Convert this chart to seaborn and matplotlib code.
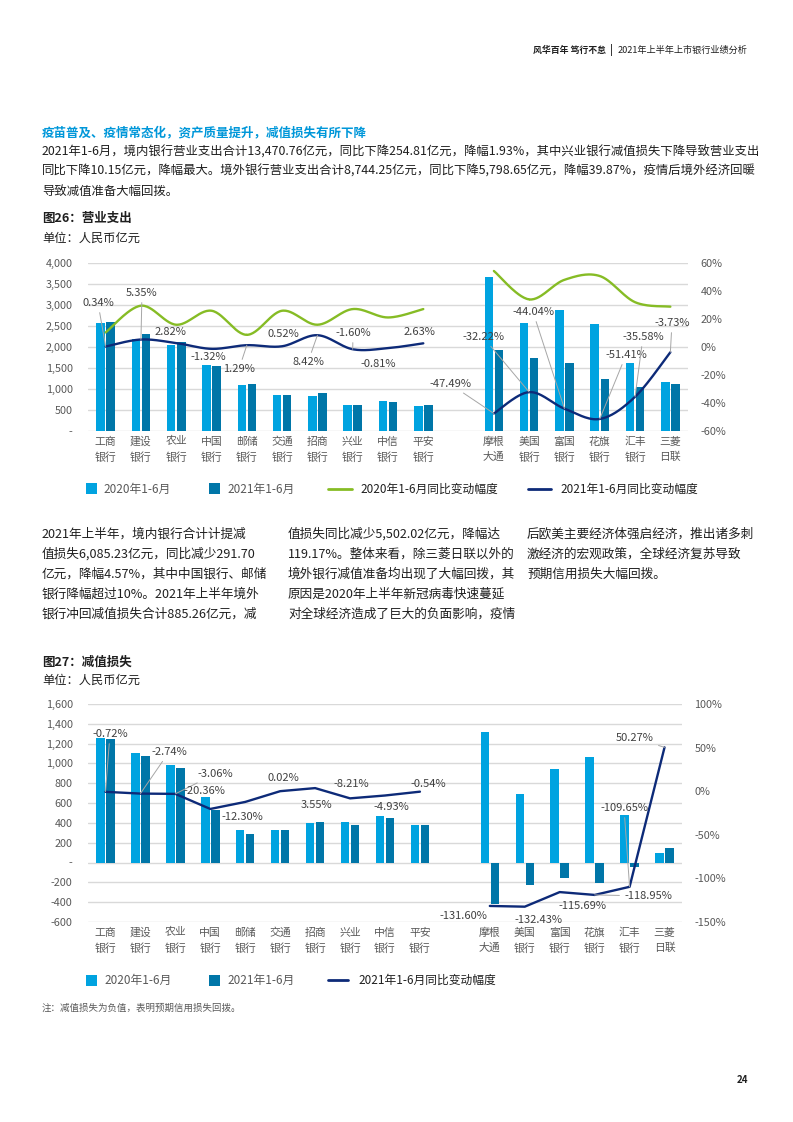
import numpy as np
import pandas as pd
import matplotlib
matplotlib.use('Agg')
import matplotlib.pyplot as plt
from matplotlib.patches import Rectangle
from matplotlib.lines import Line2D
import seaborn as sns

sns.set_theme(style='white')
plt.rcParams['font.family'] = ['Noto Sans CJK SC', 'DejaVu Sans']
plt.rcParams['axes.unicode_minus'] = False

# ---- data ----
banks_cn = ['工商\n银行', '建设\n银行', '农业\n银行', '中国\n银行', '邮储\n银行',
            '交通\n银行', '招商\n银行', '兴业\n银行', '中信\n银行', '平安\n银行']
banks_fx = ['摩根\n大通', '美国\n银行', '富国\n银行', '花旗\n银行', '汇丰\n银行', '三菱\n日联']
banks = banks_cn + banks_fx
periods = ['2020年1-6月', '2021年1-6月']

# 图26 营业支出 (亿元)
opex_2020 = [2580, 2190, 2055, 1560, 1098, 860, 840, 628, 706, 598,
             3675, 2579, 2881, 2540, 1627, 1159]
opex_2021 = [2589, 2307, 2113, 1539, 1112, 864, 911, 618, 700, 614,
             1929, 1746, 1611, 1230, 1048, 1119]
opex_chg_2020 = [10.4, 29.5, 15.9, 25.9, 8.7, 25.9, 15.9, 27.1, 21.1, 27.1,
                 54.3, 34.0, 48.0, 50.7, 32.0, 28.8]
opex_chg_2021 = [0.34, 5.35, 2.82, -1.32, 1.29, 0.52, 8.42, -1.60, -0.81, 2.63,
                 -47.49, -32.22, -44.04, -51.41, -35.58, -3.73]

# 图27 减值损失 (亿元)
imp_2020 = [1252, 1110, 988, 661, 331, 331, 398, 408, 472, 381,
            1316, 692, 948, 1063, 476, 98]
imp_2021 = [1243, 1080, 958, 526, 290, 331, 412, 375, 449, 379,
            -418, -226, -152, -202, -47, 147]
imp_chg_2021 = [-0.72, -2.74, -3.06, -20.36, -12.30, 0.02, 3.55, -8.21, -4.93, -0.54,
                -131.60, -132.43, -115.69, -118.95, -109.65, 50.27]

# ---- style ----
C20 = '#00A3E0'
C21 = '#0076A8'
GREEN = '#86BC25'
NAVY = '#0D2A78'
GRID = '#d9d9d9'
TICK = '#595959'
TXT = '#1f1f1f'

W, H = 793, 1122
fig = plt.figure(figsize=(W / 100, H / 100), dpi=100)


def fx(px):
    return px / W


def fy(py):
    return 1 - py / H


order = banks_cn + [' '] + banks_fx
pos = list(range(10)) + list(range(11, 17))
grp = ['cn'] * 10 + ['fx'] * 6


def smooth(xs, ys, n=30):
    # Catmull-Rom style curve through the points (Excel "smoothed line")
    p = np.column_stack([xs, ys]).astype(float)
    p = np.vstack([p[0], p, p[-1]])
    t = np.linspace(0, 1, n)[:, None]
    out = []
    for i in range(1, len(p) - 2):
        p0, p1, p2, p3 = p[i - 1], p[i], p[i + 1], p[i + 2]
        seg = 0.5 * (2 * p1 + (-p0 + p2) * t + (2 * p0 - 5 * p1 + 4 * p2 - p3) * t ** 2
                     + (-p0 + 3 * p1 - 3 * p2 + p3) * t ** 3)
        out.append(seg)
    return np.vstack(out)


def bar_chart(ax, v20, v21, ylim, ystep, y2lim, y2step):
    df = pd.DataFrame({'bank': banks * 2,
                       'period': [periods[0]] * 16 + [periods[1]] * 16,
                       'value': v20 + v21})
    sns.barplot(data=df, x='bank', y='value', hue='period', order=order,
                hue_order=periods, palette=[C20, C21], saturation=1,
                width=0.57, gap=0.15, legend=False, ax=ax, linewidth=0)
    ax.set_xlim(-0.5, 16.5)
    ax.set_ylim(*ylim)
    ticks = np.arange(ylim[0], ylim[1] + 1, ystep)
    ax.set_yticks(ticks)
    ax.set_yticklabels(['-' if v == 0 else f'{v:,.0f}' for v in ticks])
    ax.set_xlabel('')
    ax.set_ylabel('')
    ax.yaxis.grid(True, color=GRID, lw=1.0)
    ax.set_axisbelow(True)
    for s in ax.spines.values():
        s.set_visible(False)
    ax.tick_params(axis='y', length=0, pad=11, labelsize=7.8, labelcolor=TICK)
    ax.tick_params(axis='x', length=0, pad=4, labelsize=7.8, labelcolor=TICK)
    for lbl in ax.get_xticklabels():
        lbl.set_linespacing(1.6)
    ax2 = ax.twinx()
    ax2.set_ylim(*y2lim)
    t2 = np.arange(y2lim[0], y2lim[1] + 1, y2step)
    ax2.set_yticks(t2)
    ax2.set_yticklabels([f'{v:.0f}%' for v in t2])
    ax2.grid(False)
    for s in ax2.spines.values():
        s.set_visible(False)
    ax2.tick_params(axis='y', length=0, pad=9, labelsize=7.8, labelcolor=TICK)
    return ax2


def annotate(ax, vals, spots):
    for i, (px, py, leader) in enumerate(spots):
        ap = dict(arrowstyle='-', color='#a6a6a6', lw=0.7, shrinkA=1, shrinkB=0) if leader else None
        ax.annotate(f'{vals[i]:.2f}%', xy=(pos[i], vals[i]), xytext=(px, H - py),
                    textcoords='figure pixels', ha='center', va='center',
                    fontsize=8, color='#404040', arrowprops=ap)


# ---- page text ----
fig.text(fx(747), fy(50), '2021年上半年上市银行业绩分析', ha='right', va='center',
         fontsize=6.6, color=TXT)
fig.text(fx(611), fy(50), '|', ha='center', va='center', fontsize=7, color=TXT, weight='bold')
fig.text(fx(606), fy(50), '风华百年 笃行不怠', ha='right', va='center',
         fontsize=6.4, color=TXT, weight='bold')

fig.text(fx(42), fy(133), '疫苗普及、疫情常态化，资产质量提升，减值损失有所下降',
         ha='left', va='center', fontsize=9, color='#0097D9', weight='bold')
para1 = ['2021年1-6月，境内银行营业支出合计13,470.76亿元，同比下降254.81亿元，降幅1.93%，其中兴业银行减值损失下降导致营业支出',
         '同比下降10.15亿元，降幅最大。境外银行营业支出合计8,744.25亿元，同比下降5,798.65亿元，降幅39.87%，疫情后境外经济回暖',
         '导致减值准备大幅回拨。']
for k, line in enumerate(para1):
    fig.text(fx(42), fy(152 + k * 19.5), line, ha='left', va='center', fontsize=8.9, color=TXT)

col1 = ['2021年上半年，境内银行合计计提减',
        '值损失6,085.23亿元，同比减少291.70',
        '亿元，降幅4.57%，其中中国银行、邮储',
        '银行降幅超过10%。2021年上半年境外',
        '银行冲回减值损失合计885.26亿元，减']
col2 = ['值损失同比减少5,502.02亿元，降幅达',
        '119.17%。整体来看，除三菱日联以外的',
        '境外银行减值准备均出现了大幅回拨，其',
        '原因是2020年上半年新冠病毒快速蔓延',
        '对全球经济造成了巨大的负面影响，疫情']
col3 = ['后欧美主要经济体强启经济，推出诸多刺',
        '激经济的宏观政策，全球经济复苏导致',
        '预期信用损失大幅回拨。']
for x0, col in [(42, col1), (288, col2), (527, col3)]:
    for k, line in enumerate(col):
        fig.text(fx(x0), fy(534 + k * 20), line, ha='left', va='center', fontsize=9.1, color=TXT)

fig.text(fx(42), fy(218), '图26：营业支出', ha='left', va='center', fontsize=9,
         color=TXT, weight='bold')
fig.text(fx(42), fy(238), '单位：人民币亿元', ha='left', va='center', fontsize=8.8, color=TXT)
fig.text(fx(42), fy(662), '图27：减值损失', ha='left', va='center', fontsize=9,
         color=TXT, weight='bold')
fig.text(fx(42), fy(680), '单位：人民币亿元', ha='left', va='center', fontsize=8.8, color=TXT)

# ---- 图26 ----
ax1 = fig.add_axes([fx(88), fy(431), 600 / W, 168 / H])
ax1r = bar_chart(ax1, opex_2020, opex_2021, (0, 4000), 500, (-60, 60), 20)
for g in ['cn', 'fx']:
    idx = [i for i in range(16) if grp[i] == g]
    xs = [pos[i] for i in idx]
    for vals, col in [(opex_chg_2020, GREEN), (opex_chg_2021, NAVY)]:
        curve = smooth(xs, [vals[i] for i in idx])
        ax1r.plot(curve[:, 0], curve[:, 1], color=col, lw=1.7, solid_capstyle='round')
spots1 = [(98, 303, True), (142, 293, True), (170, 332, False), (208, 357, False),
          (239, 369, True), (283, 334, False), (308, 362, True), (353, 333, True),
          (378, 364, False), (419, 332, False), (450, 384, True), (483, 337, True),
          (533, 312, True), (626, 355, True), (643, 337, True), (672, 323, True)]
annotate(ax1r, opex_chg_2021, spots1)

# ---- 图27 ----
ax2 = fig.add_axes([fx(88), fy(922), 594 / W, 218 / H])
ax2r = bar_chart(ax2, imp_2020, imp_2021, (-600, 1600), 200, (-150, 100), 50)
df_line = pd.DataFrame({'x': pos, 'chg': imp_chg_2021, 'grp': grp})
sns.lineplot(data=df_line, x='x', y='chg', units='grp', estimator=None,
             color=NAVY, lw=1.7, ax=ax2r)
ax2r.set_xlabel('')
ax2r.set_ylabel('')
spots2 = [(110, 734, True), (169, 752, True), (215, 774, True), (204, 791, False),
          (242, 817, False), (283, 778, False), (316, 805, False), (351, 784, False),
          (391, 807, False), (428, 784, False), (463, 916, False), (538, 920, False),
          (582, 906, False), (648, 896, True), (624, 808, True), (635, 738, True)]
annotate(ax2r, imp_chg_2021, spots2)

# ---- legends ----
def legend_row(y, items):
    for kind, x0, color, tx, label, tcol in items:
        if kind == 'box':
            fig.add_artist(Rectangle((fx(x0), fy(y + 5.5)), 11 / W, 11 / H,
                                     transform=fig.transFigure, color=color, lw=0))
        else:
            fig.add_artist(Line2D([fx(x0[0]), fx(x0[1])], [fy(y), fy(y)],
                                  transform=fig.transFigure, color=color, lw=2))
        fig.text(fx(tx), fy(y), label, ha='left', va='center', fontsize=8.5, color=tcol)


legend_row(489, [('box', 86, C20, 103, periods[0], TICK),
                 ('box', 209, C21, 227, periods[1], TICK),
                 ('line', (328, 352), GREEN, 360, '2020年1-6月同比变动幅度', TXT),
                 ('line', (528, 551), NAVY, 560, '2021年1-6月同比变动幅度', TXT)])
legend_row(980, [('box', 86, C20, 104, periods[0], TICK),
                 ('box', 209, C21, 227, periods[1], TICK),
                 ('line', (328, 348), NAVY, 358, '2021年1-6月同比变动幅度', TXT)])

fig.text(fx(42), fy(1008), '注：减值损失为负值，表明预期信用损失回拨。', ha='left', va='center',
         fontsize=6.8, color=TICK)
fig.text(fx(748), fy(1080), '24', ha='right', va='center', fontsize=7, color=TXT, weight='bold')

fig.savefig('out.png', dpi=100)
